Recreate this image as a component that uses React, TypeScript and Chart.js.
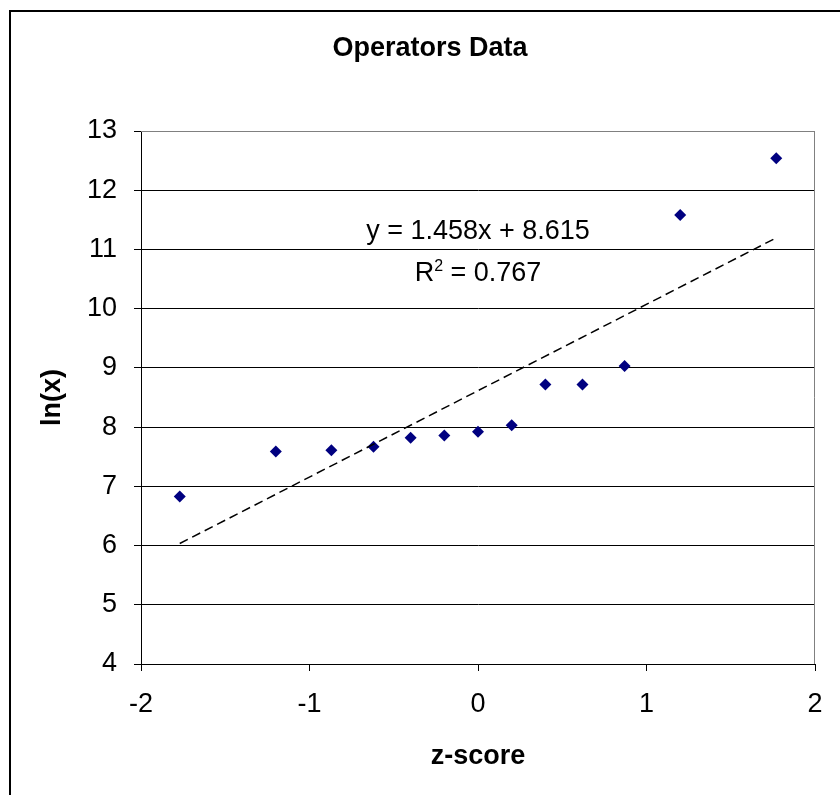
import React, { useEffect, useRef } from "react";
import { Chart, registerables } from "chart.js";

Chart.register(...registerables);

// ---- data ----
const zScores = [-1.77, -1.2, -0.87, -0.62, -0.4, -0.2, 0, 0.2, 0.4, 0.62, 0.87, 1.2, 1.77];
const lnValues = [6.83, 7.59, 7.61, 7.67, 7.82, 7.86, 7.92, 8.03, 8.72, 8.72, 9.03, 11.58, 12.54];
const trendSlope = 1.458;
const trendIntercept = 8.615;
const rSquared = "0.767";
const xTickValues = [-2, -1, 0, 1, 2];
const yTickValues = [4, 5, 6, 7, 8, 9, 10, 11, 12, 13];
const chartTitle = "Operators Data";
const xAxisTitle = "z-score";
const yAxisTitle = "ln(x)";
const equationText = "y = 1.458x + 8.615";
// label anchor in data units
const labelAnchorX = 0.0;
const eqLineY = 11.3;
const r2LineY = 10.64;

const FONT = "'Liberation Sans', Arial, Helvetica, sans-serif";

const trendXs = [Math.min(...zScores), Math.max(...zScores)];

export default function App() {
  const ref = useRef<HTMLCanvasElement | null>(null);

  useEffect(() => {
    if (!ref.current) return;
    const points = zScores.map((x, i) => ({ x, y: lnValues[i] }));
    const trend = trendXs.map((x) => ({ x, y: trendSlope * x + trendIntercept }));

    const frame = {
      id: "frame",
      beforeDraw(chart: any) {
        const c = chart.ctx;
        c.save();
        c.fillStyle = "#ffffff";
        c.fillRect(0, 0, chart.width, chart.height);
        c.strokeStyle = "#000000";
        c.lineWidth = 2;
        c.strokeRect(10, 11, chart.width + 20, chart.height + 20);
        c.restore();
      },
      beforeDatasetsDraw(chart: any) {
        const { left, right, top, bottom } = chart.chartArea;
        const c = chart.ctx;
        c.save();
        c.strokeStyle = "#808080";
        c.lineWidth = 1;
        c.beginPath();
        c.moveTo(left, top + 0.5);
        c.lineTo(right - 0.5, top + 0.5);
        c.lineTo(right - 0.5, bottom);
        c.stroke();
        c.restore();
      },
      afterDatasetsDraw(chart: any) {
        const xs = chart.scales.x;
        const ys = chart.scales.y;
        const cx = xs.getPixelForValue(labelAnchorX);
        const y1 = ys.getPixelForValue(eqLineY);
        const y2 = ys.getPixelForValue(r2LineY);
        const c = chart.ctx;
        c.save();
        c.fillStyle = "#000";
        c.font = `27px ${FONT}`;
        c.textAlign = "center";
        c.textBaseline = "middle";
        c.fillText(equationText, cx, y1);
        // R^2 line
        const supFont = `16px ${FONT}`;
        const mainFont = `27px ${FONT}`;
        c.font = mainFont;
        const wR = c.measureText("R").width;
        const wRest = c.measureText(" = " + rSquared).width;
        c.font = supFont;
        const wSup = c.measureText("2").width;
        const total = wR + wSup + wRest;
        let x = cx - total / 2;
        c.textAlign = "left";
        c.textBaseline = "alphabetic";
        const base = y2 + 10;
        c.font = mainFont;
        c.fillText("R", x, base);
        x += wR;
        c.font = supFont;
        c.fillText("2", x, base - 10);
        x += wSup;
        c.font = mainFont;
        c.fillText(" = " + rSquared, x, base);
        c.restore();
      },
    };

    const chart = new Chart(ref.current, {
      type: "scatter",
      data: {
        datasets: [
          {
            label: "trend",
            data: trend,
            showLine: true,
            borderColor: "#000",
            borderWidth: 1.5,
            borderDash: [9, 5],
            pointRadius: 0,
            fill: false,
            order: 0,
          } as any,
          {
            label: "ln(x)",
            data: points,
            pointStyle: "rectRot",
            pointRadius: 6,
            backgroundColor: "#000080",
            borderColor: "#000080",
            borderWidth: 0,
            order: 1,
          },
        ],
      },
      options: {
        responsive: false,
        animation: false,
        events: [],
        layout: { padding: { left: 45, right: 25, top: 0, bottom: 0 } },
        plugins: {
          legend: { display: false },
          tooltip: { enabled: false },
          title: {
            display: true,
            text: chartTitle,
            color: "#000",
            font: { family: FONT, size: 27, weight: "bold" },
            padding: { top: 32, bottom: 66.6 },
          },
        },
        scales: {
          x: {
            type: "linear",
            min: -2,
            max: 2,
            afterFit(scale: any) {
              scale.height = 131;
            },
            afterBuildTicks(scale: any) {
              scale.ticks = xTickValues.map((v) => ({ value: v }));
            },
            grid: {
              drawOnChartArea: false,
              drawTicks: true,
              tickLength: 7,
              tickColor: "#000",
            },
            border: { display: true, color: "#000", width: 1 },
            ticks: {
              color: "#000",
              font: { family: FONT, size: 27 },
              padding: 17,
              maxRotation: 0,
            },
            title: {
              display: true,
              text: xAxisTitle,
              color: "#000",
              font: { family: FONT, size: 27, weight: "bold" },
              padding: { bottom: 22, top: 0 },
            },
          },
          y: {
            type: "linear",
            min: 4,
            max: 13,
            afterFit(scale: any) {
              scale.width = 96;
            },
            afterBuildTicks(scale: any) {
              scale.ticks = yTickValues.map((v) => ({ value: v }));
            },
            grid: {
              color: (ctx: any) => (ctx.tick && ctx.tick.value === 13 ? "#808080" : "#000"),
              drawTicks: true,
              tickLength: 7,
              tickColor: "#000",
            },
            border: { display: true, color: "#000", width: 1 },
            ticks: {
              color: "#000",
              font: { family: FONT, size: 27 },
              padding: 17,
            },
            title: {
              display: true,
              text: yAxisTitle,
              color: "#000",
              font: { family: FONT, size: 27, weight: "bold" },
              padding: { top: -9, bottom: 0 },
            },
          },
        },
      },
      plugins: [frame],
    } as any);

    return () => chart.destroy();
  }, []);

  return (
    <div style={{ position: "fixed", left: 0, top: 0, width: 840, height: 795, background: "#fff" }}>
      <canvas ref={ref} width={840} height={795} style={{ display: "block" }} />
    </div>
  );
}
